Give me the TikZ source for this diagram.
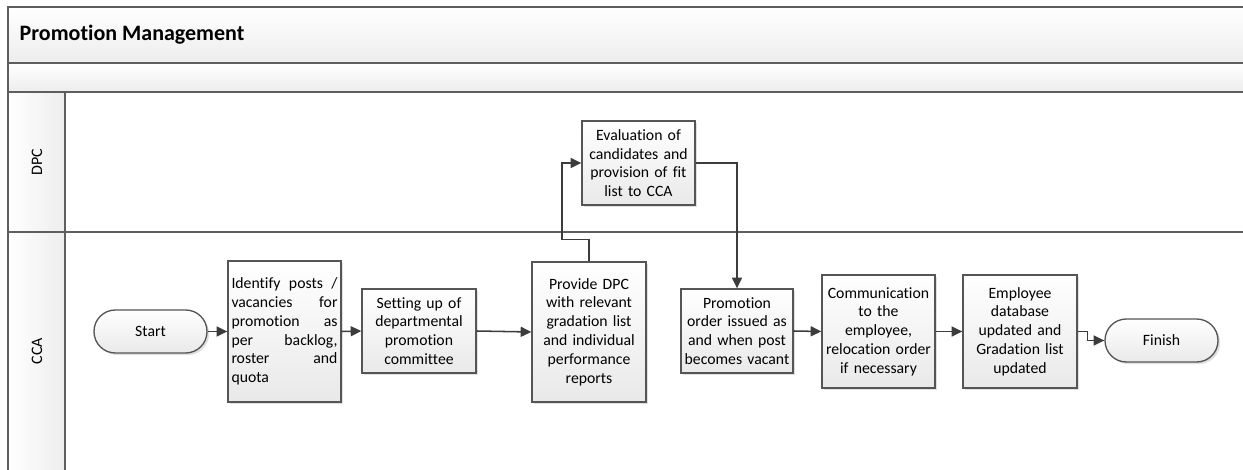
\documentclass[tikz,border=0pt]{standalone}
\usepackage{fontspec}
\setmainfont{Carlito}[Ligatures=NoCommon]
\usetikzlibrary{arrows.meta,shadows}
\definecolor{lanegray}{HTML}{5E5E5E}
\definecolor{wire}{HTML}{3C3C3C}
\definecolor{boxline}{HTML}{555555}
\definecolor{hdrgray}{HTML}{EDEDED}
\definecolor{boxgray}{HTML}{E9E9E9}
\begin{document}
\begin{tikzpicture}[x=0.75pt,y=-0.75pt,
  lane/.style={draw=lanegray,line width=1.2pt},
  body/.style={font=\fontsize{11.8}{14.1}\selectfont},
  proc/.style={body,draw=boxline,line width=1pt,shading=axis,top color=white,bottom color=boxgray,
    inner sep=0pt,align=center,text width=79.5pt,
    drop shadow={shadow xshift=1.6pt,shadow yshift=-1.6pt,fill=black,opacity=0.12}},
  term/.style={proc,rounded corners=16pt,minimum width=84.75pt,minimum height=32.25pt},
  flow/.style={draw=wire,line width=1.15pt,-{Triangle[length=8pt,width=7.5pt]}},
  lanelabel/.style={rotate=90,font=\fontsize{12}{14}\selectfont}]
\useasboundingbox (0,0) rectangle (1243,470);

% pool header and lanes
\shade[top color=white,bottom color=hdrgray] (8,7) rectangle (1243,63);
\shade[top color=white,bottom color=hdrgray] (8,63) rectangle (1243,92);
\shade[left color=white,right color=hdrgray] (8,92) rectangle (65,470);
\draw[lane] (1243,7) -- (8,7) -- (8,470);
\draw[lane] (8,63) -- (1243,63);
\draw[lane] (8,92) -- (1243,92);
\draw[lane] (8,232) -- (1243,232);
\draw[lane] (65,92) -- (65,470);

\node[anchor=west,font=\bfseries\fontsize{16.5}{19}\selectfont] (title) at (15,35) {Promotion Management};
\node[lanelabel] (dpc) at (37,162) {DPC};
\node[lanelabel] (cca) at (37,351) {CCA};

% process steps
\node[term] (start) at (150.5,331.5) {Start};
\node[proc,minimum width=84.75pt,minimum height=105.75pt,align=justify] (ident) at (284.5,331.5)
  {Identify\hfill posts\hfill /\\ vacancies\hfill for\\ promotion\hfill as\\ per\hfill backlog,\\ roster\hfill and\\ quota\hfill\null};
\node[proc,minimum width=85.5pt,minimum height=63pt] (setup) at (419,331)
  {Setting up of\\ departmental\\ promotion\\ committee};
\node[proc,minimum width=85.5pt,minimum height=105pt] (provide) at (589,332)
  {Provide DPC\\ with relevant\\ gradation list\\ and individual\\ performance\\ reports};
\node[proc,minimum width=84.75pt,minimum height=63pt] (eval) at (638.5,163)
  {Evaluation of\\ candidates and\\ provision of fit\\ list to CCA};
\node[proc,minimum width=84pt,minimum height=63pt] (order) at (737,331)
  {Promotion\\ order issued as\\ and when post\\ becomes vacant};
\node[proc,minimum width=84.75pt,minimum height=84.75pt] (comm) at (878.5,331.5)
  {Communication\\ to the\\ employee,\\ relocation order\\ if necessary};
\node[proc,minimum width=85.5pt,minimum height=84.75pt] (empl) at (1020,331.5)
  {Employee\\ database\\ updated and\\ Gradation list\\ updated};
\node[term] (finish) at (1161.5,340.5) {Finish};

% connectors
\draw[flow] (start.east) -- (ident.west);
\draw[flow] (ident.east) -- (setup.west);
\draw[flow] (setup.east) -- (provide.west);
\draw[flow] (provide.north) -- ++(0,-22) -- ++(-27,0) |- (eval.west);
\draw[flow] (eval.east) -| (order.north);
\draw[flow] (order.east) -- (comm.west);
\draw[flow] (comm.east) -- (empl.west);
\draw[flow] (empl.east) -- ++(10,0) |- (finish.west);
\end{tikzpicture}
\end{document}
